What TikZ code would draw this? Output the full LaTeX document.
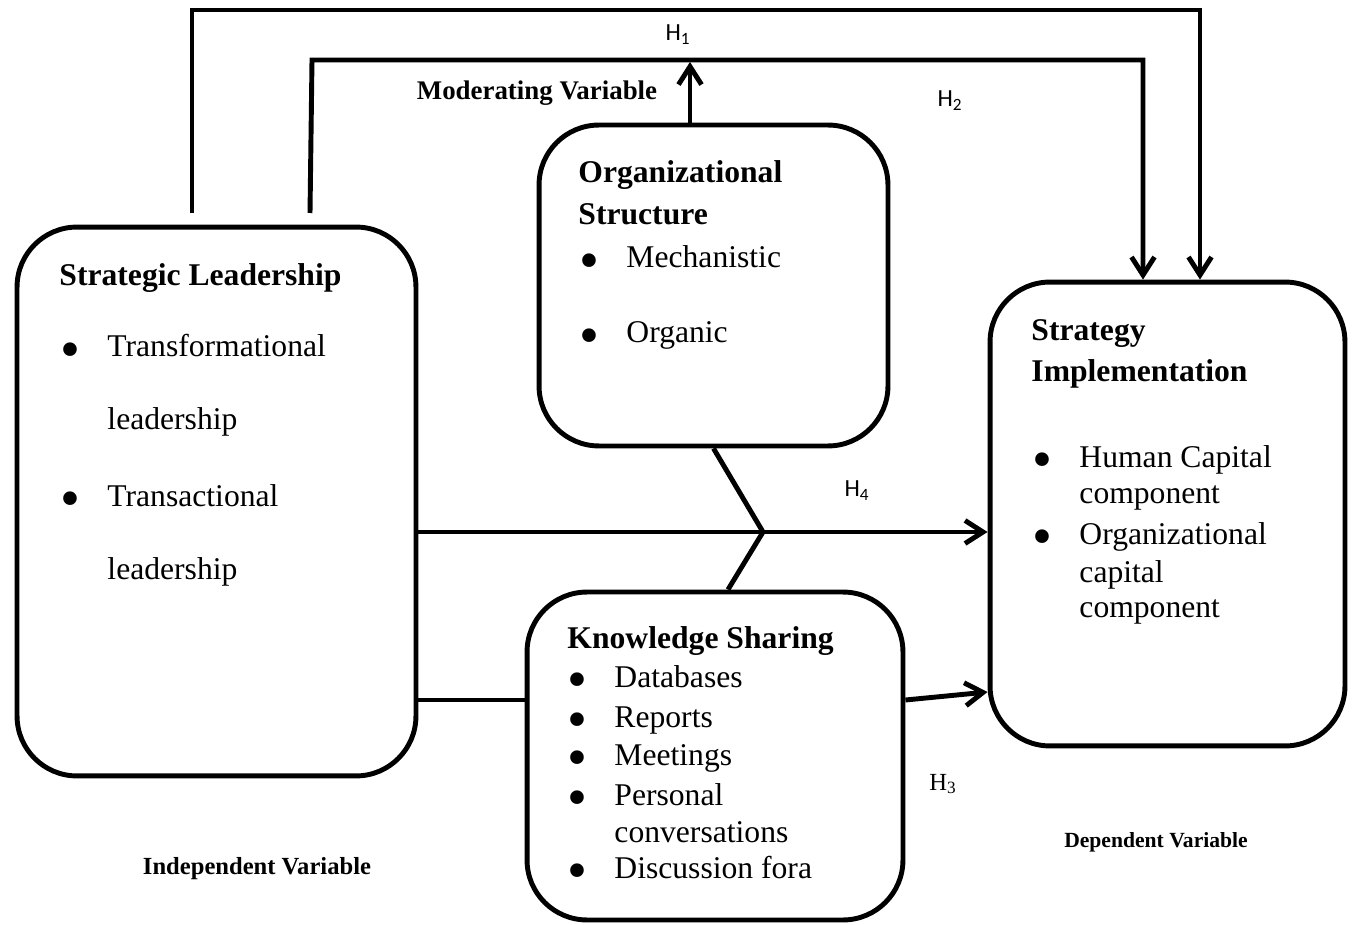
\documentclass[tikz,border=0pt]{standalone}
\usepackage{fontspec}
\setmainfont{Liberation Serif}
\setsansfont{Carlito}
\usetikzlibrary{arrows.meta,positioning,calc}

\newcommand{\itm}[1]{\makebox[0.94cm][l]{\smash{\raisebox{-6.8pt}{\scalebox{1.8}{\textbullet}}}}#1}

\begin{document}
\begin{tikzpicture}[x=0.02cm,y=-0.02cm,line width=2.8pt,
  box/.style={draw,rounded corners=1.2cm,inner sep=0pt},
  txt/.style={anchor=base west,inner sep=0pt,font=\fontsize{18}{21}\selectfont},
  head/.style={txt,font=\fontsize{18}{21}\selectfont\bfseries},
  hyp/.style={inner sep=0pt,font=\sffamily\fontsize{14}{16}\selectfont},
  arr/.style={-{Straight Barb[length=0.36cm,width=0.46cm]}}]
  \useasboundingbox (0,0) rectangle (1355,925);

  % boxes
  \node[box,minimum width=7.98cm,minimum height=10.98cm] (sl) at (216.5,501.5) {};
  \node[box,minimum width=6.98cm,minimum height=6.42cm] (os) at (713.5,285.5) {};
  \node[box,minimum width=7.1cm,minimum height=9.28cm] (si) at (1167.5,514) {};
  \node[box,minimum width=7.52cm,minimum height=6.56cm] (ks) at (715,756) {};

  % strategic leadership
  \node[head] (sl0) at (57,286) {Strategic Leadership};
  \node[txt] (sl1) at (58,357) {\itm{Transformational}};
  \node[txt] (sl2) at (105,430) {leadership};
  \node[txt] (sl3) at (58,506) {\itm{Transactional}};
  \node[txt] (sl4) at (105,579) {leadership};

  % organizational structure
  \node[head] (os0) at (576,183) {Organizational};
  \node[head] (os1) at (576,225) {Structure};
  \node[txt] (os2) at (577,268) {\itm{Mechanistic}};
  \node[txt] (os3) at (577,343) {\itm{Organic}};

  % strategy implementation
  \node[head] (si0) at (1029,341) {Strategy};
  \node[head] (si1) at (1029,382) {Implementation};
  \node[txt] (si2) at (1030,467) {\itm{Human Capital}};
  \node[txt] (si3) at (1077,503) {component};
  \node[txt] (si4) at (1030,544) {\itm{Organizational}};
  \node[txt] (si5) at (1077,582) {capital};
  \node[txt] (si6) at (1077,617) {component};

  % knowledge sharing
  \node[head] (ks0) at (565,648) {Knowledge Sharing};
  \node[txt] (ks1) at (565,687) {\itm{Databases}};
  \node[txt] (ks2) at (565,727) {\itm{Reports}};
  \node[txt] (ks3) at (565,765) {\itm{Meetings}};
  \node[txt] (ks4) at (565,805) {\itm{Personal}};
  \node[txt] (ks5) at (612,842) {conversations};
  \node[txt] (ks6) at (565,878) {\itm{Discussion fora}};

  % hypotheses and captions
  \node[hyp] (h1) at (678,35) {H\textsubscript{1}};
  \node[hyp] (h2) at (950,101) {H\textsubscript{2}};
  \node[hyp] (h4) at (857,491) {H\textsubscript{4}};
  \node[inner sep=0pt,font=\fontsize{14}{16}\selectfont] (h3) at (943,784) {H\textsubscript{3}};
  \node[inner sep=0pt,font=\bfseries\fontsize{15.3}{17}\selectfont] (mod) at (537,93) {Moderating Variable};
  \node[inner sep=0pt,font=\bfseries\fontsize{14}{16}\selectfont] (ind) at (257,869) {Independent Variable};
  \node[inner sep=0pt,font=\bfseries\fontsize{12.3}{14}\selectfont] (dep) at (1156,842) {Dependent Variable};

  % H1 and H2 paths
  \coordinate (h1s) at (192,213);
  \coordinate (h1l) at (192,10);
  \coordinate (h1r) at (1200,10);
  \draw[arr] (h1s) -- (h1l) -- (h1r) -- (h1r |- si.north);
  \coordinate (h2s) at (310,213);
  \coordinate (h2l) at (312,60);
  \coordinate (h2r) at (1143,60);
  \draw[arr] (h2s) -- (h2l) -- (h2r) -- (h2r |- si.north);
  \coordinate (mv) at (690,62);
  \draw[arr] (os.north -| mv) -- (mv);

  % H4 with moderation
  \coordinate (j) at (763,532);
  \draw[arr] (sl.east |- j) -- (si.west |- j);
  \draw (os.south) -- (j) -- ($(ks.north)+(13,0)$);

  % H3 through knowledge sharing
  \coordinate (b) at (0,700);
  \draw (sl.east |- b) -- (ks.west |- b);
  \draw[arr] (ks.east |- b) -- ($(si.west |- b)+(0,-8)$);
\end{tikzpicture}
\end{document}
